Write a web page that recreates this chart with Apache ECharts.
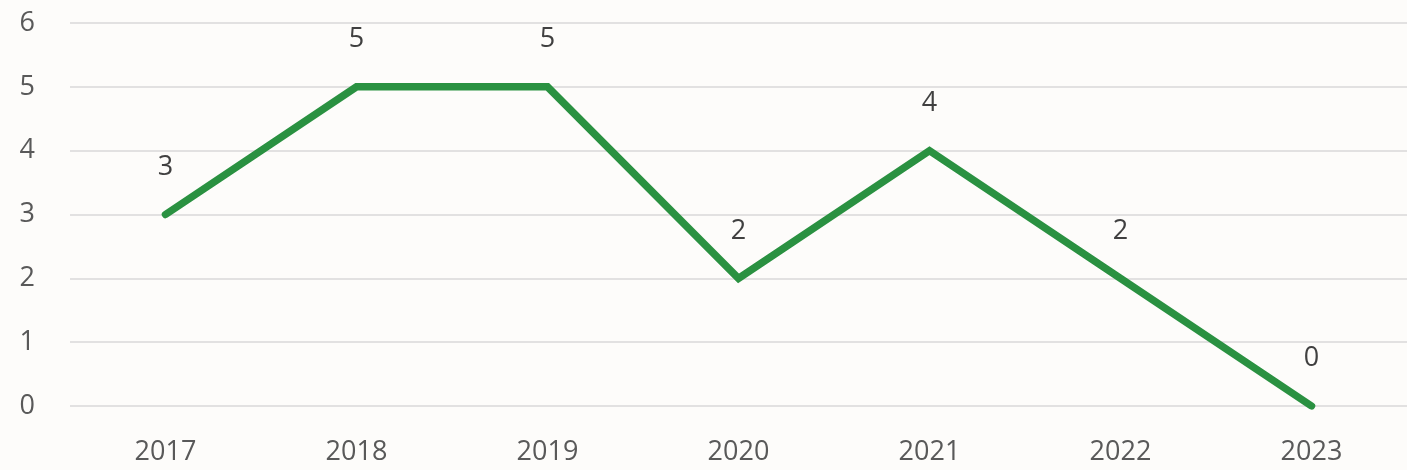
<!DOCTYPE html>
<html>
<head>
<meta charset="utf-8">
<script src="https://cdn.jsdelivr.net/npm/echarts@6/dist/echarts.min.js"></script>
<style>
  html, body { margin: 0; padding: 0; background: #fdfcfa; }
  #chart { width: 1407px; height: 470px; }
</style>
</head>
<body>
<div id="chart"></div>
<script>
const years = ["2017", "2018", "2019", "2020", "2021", "2022", "2023"];
const counts = [3, 5, 5, 2, 4, 2, 0];
const yTicks = [0, 1, 2, 3, 4, 5, 6];

const myChart = echarts.init(document.getElementById("chart"));
const option = {
  backgroundColor: "#fdfcfa",
  textStyle: { fontFamily: "Open Sans, Noto Sans, sans-serif" },
  grid: { left: 70, top: 23, right: -8, bottom: 64 },
  xAxis: {
    type: "category",
    data: years,
    boundaryGap: true,
    axisTick: { show: false },
    axisLine: { show: false },
    axisLabel: { color: "#595959", fontSize: 27, margin: 33 },
  },
  yAxis: {
    type: "value",
    min: yTicks[0],
    max: yTicks[yTicks.length - 1],
    interval: 1,
    axisLine: { show: false },
    axisTick: { show: false },
    splitLine: { lineStyle: { color: "#d9d9d9", width: 1.5 } },
    axisLabel: { color: "#595959", fontSize: 27, margin: 35 },
  },
  series: [
    {
      type: "line",
      data: counts,
      symbol: "circle",
      symbolSize: 2,
      showSymbol: true,
      itemStyle: { color: "#2a9141" },
      lineStyle: { color: "#2a9141", width: 7.5, cap: "round", join: "miter" },
      label: {
        show: true,
        position: "top",
        distance: 33,
        color: "#404040",
        fontSize: 27,
      },
    },
  ],
};
myChart.setOption(option);
</script>
</body>
</html>
